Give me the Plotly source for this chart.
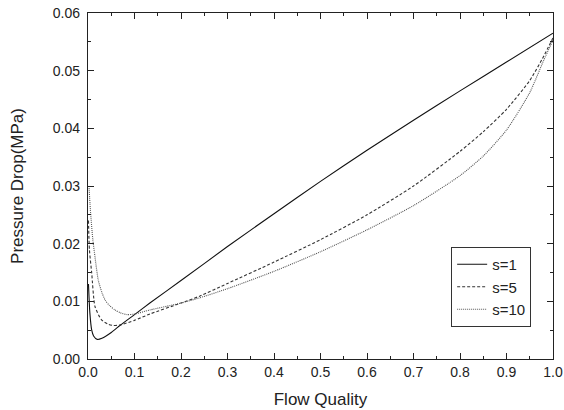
import plotly.graph_objects as go

# Flow quality (x) and pressure drop (MPa) for each slip ratio s
x_s1 = [0.001, 0.004, 0.008, 0.012, 0.02, 0.03, 0.05, 0.07, 0.1, 0.133, 0.2, 0.3, 0.4,
        0.5, 0.6, 0.7, 0.8, 0.9, 1.0]
y_s1 = [0.013, 0.0080, 0.0050, 0.0040, 0.0034, 0.0036, 0.0046, 0.0059, 0.0077, 0.0097,
        0.0136, 0.0195, 0.0252, 0.0308, 0.0362, 0.0414, 0.0465, 0.0515, 0.0565]

x_s5 = [0.001, 0.003, 0.008, 0.015, 0.029, 0.044, 0.055, 0.069, 0.1, 0.133, 0.2, 0.24,
        0.3, 0.4, 0.5, 0.6, 0.7, 0.8, 0.85, 0.9, 0.95, 0.98, 1.0]
y_s5 = [0.024, 0.019, 0.0149, 0.0091, 0.0068, 0.0060, 0.0058, 0.0059, 0.0067, 0.0078,
        0.0097, 0.0109, 0.0131, 0.0168, 0.0207, 0.0250, 0.0300, 0.0360, 0.0394, 0.0433,
        0.0483, 0.0525, 0.0557]

x_s10 = [0.002, 0.005, 0.01, 0.015, 0.022, 0.03, 0.037, 0.046, 0.058, 0.07, 0.085, 0.1,
         0.133, 0.2, 0.24, 0.3, 0.4, 0.5, 0.6, 0.7, 0.8, 0.85, 0.9, 0.95, 0.98, 1.0]
y_s10 = [0.030, 0.026, 0.021, 0.0177, 0.0137, 0.0115, 0.0102, 0.0093, 0.0085, 0.0080,
         0.0077, 0.0078, 0.0085, 0.0097, 0.0106, 0.0122, 0.0152, 0.0186, 0.0224, 0.0266,
         0.0318, 0.0352, 0.0397, 0.0462, 0.0518, 0.0553]

series_names = ["s=1", "s=5", "s=10"]
x_ticks = [0.0, 0.1, 0.2, 0.3, 0.4, 0.5, 0.6, 0.7, 0.8, 0.9, 1.0]
y_ticks = [0.00, 0.01, 0.02, 0.03, 0.04, 0.05, 0.06]

FONT = "Liberation Sans, Arial, sans-serif"

fig = go.Figure()
fig.add_trace(go.Scatter(x=x_s1, y=y_s1, name=series_names[0], mode="lines",
                         line=dict(color="#111111", width=1.1, shape="spline", smoothing=0.6)))
fig.add_trace(go.Scatter(x=x_s5, y=y_s5, name=series_names[1], mode="lines",
                         line=dict(color="#333333", width=1.1, dash="3px,2px",
                                   shape="spline", smoothing=0.6)))
fig.add_trace(go.Scatter(x=x_s10, y=y_s10, name=series_names[2], mode="lines",
                         line=dict(color="#555555", width=1.1, dash="1px,1px",
                                   shape="spline", smoothing=0.6)))

axis_common = dict(
    showline=True, linecolor="#222222", linewidth=1.3, mirror="ticks",
    ticks="inside", ticklen=6, tickwidth=1.2, tickcolor="#222222",
    showgrid=False, zeroline=False, automargin=False,
    tickfont=dict(family=FONT, size=14, color="#222222"),
    title_font=dict(family=FONT, size=17, color="#222222"),
)

fig.update_xaxes(range=[0, 1.0], tickvals=x_ticks,
                 ticktext=[f"{v:.1f}" for v in x_ticks],
                 minor=dict(ticks="inside", ticklen=3, tickwidth=1.2, tickcolor="#222222",
                            dtick=0.05, showgrid=False),
                 title_text="Flow Quality", title_standoff=14, **axis_common)
fig.update_yaxes(range=[0, 0.06], tickvals=y_ticks,
                 ticktext=[f"{v:.2f}" for v in y_ticks],
                 minor=dict(ticks="inside", ticklen=3, tickwidth=1.2, tickcolor="#222222",
                            dtick=0.005, showgrid=False),
                 ticklabelstandoff=4,
                 title_text="Pressure Drop(MPa)", title_standoff=24, **axis_common)

fig.update_layout(
    width=564, height=410,
    margin=dict(l=88, r=11, t=13, b=51),
    paper_bgcolor="white", plot_bgcolor="white",
    font=dict(family=FONT, size=14, color="#222222"),
    legend=dict(x=0.953, y=0.0925, xanchor="right", yanchor="bottom",
                bordercolor="#333333", borderwidth=1, bgcolor="white",
                font=dict(family=FONT, size=15, color="#222222"), tracegroupgap=0,
                itemwidth=30),
)

fig.write_html("out.html", config={"displayModeBar": False},
               post_script="document.body.style.margin='0px';")
